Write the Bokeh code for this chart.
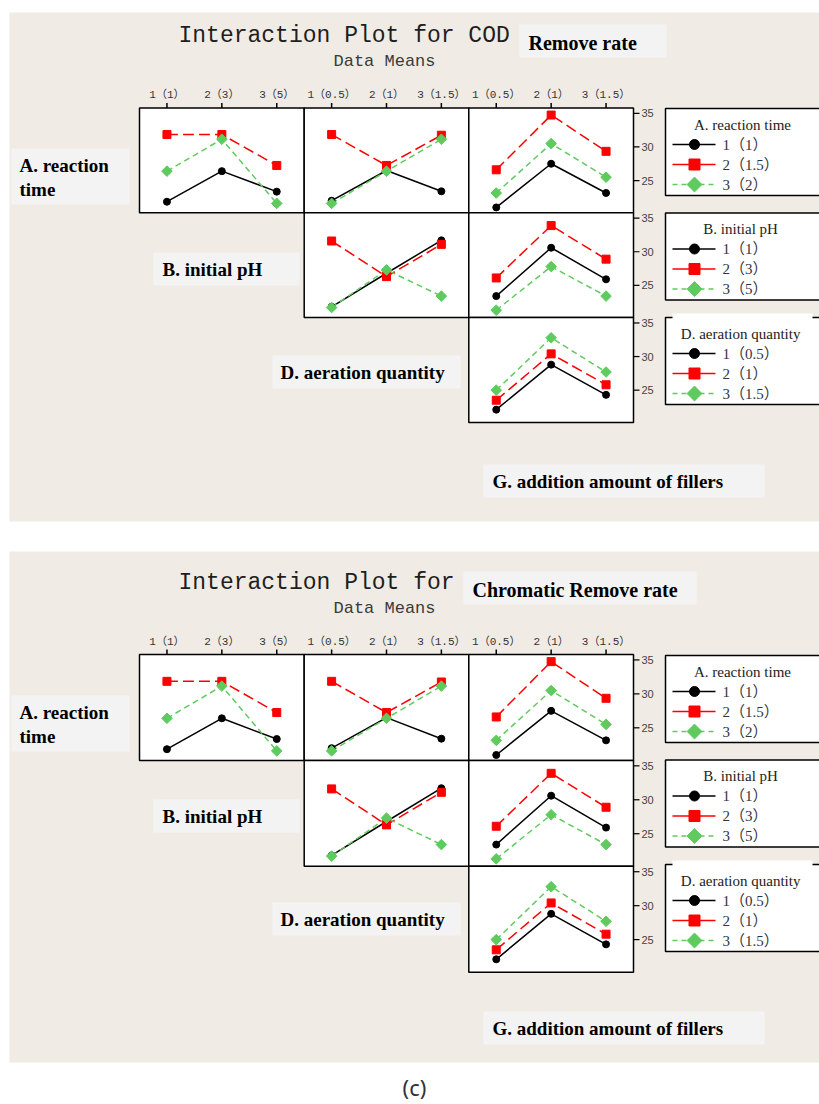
import math

from bokeh.plotting import figure
from bokeh.models import Range1d
from bokeh.core.properties import value
from bokeh.embed import file_html
from bokeh.resources import INLINE

# ---------------------------------------------------------------- data
# coded factor levels (actual settings in brackets)
LEVELS = [1, 2, 3]
A_LABELS = ["1（1）", "2（1.5）", "3（2）"]
B_LABELS = ["1（1）", "2（3）", "3（5）"]
D_LABELS = ["1（0.5）", "2（1）", "3（1.5）"]
G_LABELS = ["1（0.5）", "2（1）", "3（1.5）"]
Y_TICKS = [25, 30, 35]

# A. reaction time (lines) vs B. initial pH (x)
A1_vs_B = [21.85, 26.4, 23.35]
A2_vs_B = [31.85, 31.85, 27.25]
A3_vs_B = [26.4, 31.15, 21.6]
# A. reaction time (lines) vs D. aeration quantity (x)
A1_vs_D = [22.0, 26.5, 23.4]
A2_vs_D = [31.85, 27.25, 31.75]
A3_vs_D = [21.6, 26.4, 31.15]
# A. reaction time (lines) vs G. addition amount of fillers (x)
A1_vs_G = [21.0, 27.5, 23.15]
A2_vs_G = [26.6, 34.75, 29.35]
A3_vs_G = [23.15, 30.5, 25.5]
# B. initial pH (lines) vs D. aeration quantity (x)
B1_vs_D = [21.8, 26.8, 31.7]
B2_vs_D = [31.6, 26.3, 31.1]
B3_vs_D = [21.7, 27.3, 23.4]
# B. initial pH (lines) vs G. addition amount of fillers (x)
B1_vs_G = [23.4, 30.6, 25.9]
B2_vs_G = [26.1, 33.9, 28.9]
B3_vs_G = [21.3, 27.8, 23.4]
# D. aeration quantity (lines) vs G. addition amount of fillers (x)
D1_vs_G = [22.1, 28.8, 24.3]
D2_vs_G = [23.5, 30.4, 25.8]
D3_vs_G = [25.0, 32.8, 27.7]

PANELS = {
    (0, 0): [A1_vs_B, A2_vs_B, A3_vs_B],
    (0, 1): [A1_vs_D, A2_vs_D, A3_vs_D],
    (0, 2): [A1_vs_G, A2_vs_G, A3_vs_G],
    (1, 1): [B1_vs_D, B2_vs_D, B3_vs_D],
    (1, 2): [B1_vs_G, B2_vs_G, B3_vs_G],
    (2, 2): [D1_vs_G, D2_vs_G, D3_vs_G],
}
COLUMN_LABELS = [B_LABELS, D_LABELS, G_LABELS]
LEGENDS = [("A. reaction time", A_LABELS),
           ("B. initial  pH", B_LABELS),
           ("D. aeration  quantity", D_LABELS)]

# ---------------------------------------------------------------- styles
W, H = 819, 1104
BEIGE = "#F0EBE4"
LABEL_BG = "#F3F3F3"
GREEN = "#5FCB5F"
# diamonds are drawn as squares turned by 45 degrees
SERIES = [
    dict(color="black", dash="solid", marker="circle", size=7, angle=0.0, key_dash="solid"),
    dict(color="#FF0000", dash="11 5", marker="square", size=8, angle=0.0, key_dash="solid"),
    dict(color=GREEN, dash="6 4", marker="square", size=7.5, angle=math.pi / 4, key_dash="5 4"),
]
MONO = value("'Liberation Mono', 'Noto Sans CJK SC'")
SERIF = value("'Liberation Serif', 'Noto Sans CJK SC'")
SANS = value("Liberation Sans")
X_LO, X_HI = 0.5, 3.5
Y_LO, Y_HI = 20.2, 35.8

p = figure(width=W, height=H, x_range=Range1d(0, W), y_range=Range1d(0, H),
           output_backend="svg", toolbar_location=None, min_border=0,
           x_axis_type=None, y_axis_type=None)
p.outline_line_color = None
p.background_fill_color = "white"
p.border_fill_color = "white"


def Y(py):
    """page position measured from the top -> canvas coordinate"""
    return H - py


def box(x0, x1, y0, y1, fill, line=None, width=1.5):
    p.quad(left=[x0], right=[x1], top=[Y(y0)], bottom=[Y(y1)],
           fill_color=fill, line_color=line, line_width=width)


def label(x, y, txt, font=SERIF, size="19px", style="bold", color="black",
          align="left", baseline="middle"):
    p.text(x=[x], y=[Y(y)], text=[txt], text_font=font, text_font_size=size,
           text_font_style=style, text_color=color, text_align=align,
           text_baseline=baseline)


def draw_chart(bg_top, bg_bottom, oy, grid_top, row_h, title, subject, subject_box):
    # background panel
    box(9, W + 5, bg_top, bg_bottom, BEIGE)

    # heading
    label(178, oy + 35, title, font=MONO, size="23px", style="normal", color="#1e1e1e")
    sx0, sx1 = subject_box
    box(sx0, sx1, oy + 24, oy + 57, LABEL_BG)
    label(sx0 + 9, oy + 42, subject, size="20px")
    label(384, oy + 61, "Data Means", font=MONO, size="17px", style="normal",
          color="#3a3a3a", align="center")

    # matrix geometry
    col_x = [139, 303.7, 468.3, 633]
    row_y = [grid_top + i * row_h for i in range(4)]
    px_per_y = row_h / (Y_HI - Y_LO)

    for (r, c), series in PANELS.items():
        x0, x1 = col_x[c], col_x[c + 1]
        y0, y1 = row_y[r], row_y[r + 1]
        box(x0, x1, y0, y1, "white", "black", 1.5)
        sub = p.subplot(x_source=Range1d(X_LO, X_HI), y_source=Range1d(Y_LO, Y_HI),
                        x_target=Range1d(x0, x1), y_target=Range1d(Y(y1), Y(y0)))
        for vals, st in zip(series, SERIES):
            sub.line(x=LEVELS, y=vals, line_color=st["color"], line_width=1.5,
                     line_dash=st["dash"])
        for vals, st in zip(series, SERIES):
            sub.scatter(x=LEVELS, y=vals, marker=st["marker"], size=st["size"],
                        angle=st["angle"], fill_color=st["color"], line_color=st["color"])
        if r == 0:
            tick = 5 / px_per_y
            sub.segment(x0=LEVELS, y0=[Y_HI] * 3, x1=LEVELS, y1=[Y_HI + tick] * 3,
                        line_color="black", line_width=1.5)
            sub.text(x=LEVELS, y=[Y_HI] * 3, text=COLUMN_LABELS[c], y_offset=-7,
                     text_font=MONO, text_font_size="11px", text_color="#333333",
                     text_align="center", text_baseline="bottom")
        if c == 2:
            tick = 6 / ((x1 - x0) / (X_HI - X_LO))
            sub.segment(x0=[X_HI] * 3, y0=Y_TICKS, x1=[X_HI + tick] * 3, y1=Y_TICKS,
                        line_color="black", line_width=1.2)
            sub.text(x=[X_HI] * 3, y=Y_TICKS, text=[str(t) for t in Y_TICKS],
                     x_offset=8, text_font=SANS, text_font_size="11px",
                     text_color="#444444", text_align="left", text_baseline="middle")

    # factor names on the diagonal
    box(11, 129, oy + 148, oy + 204, LABEL_BG)
    label(19, oy + 165, "A. reaction")
    label(19, oy + 189, "time")
    box(153, 299, oy + 252, oy + 285, LABEL_BG)
    label(162, oy + 269, "B. initial pH")
    box(272, 460, oy + 355, oy + 388, LABEL_BG)
    label(280, oy + 372, "D. aeration quantity")
    box(483, 764, oy + 464, oy + 497, LABEL_BG)
    label(492, oy + 481, "G. addition amount of fillers")

    # legends, one per line factor
    for i, (name, items) in enumerate(LEGENDS):
        ty = oy + 108 + i * 104.5
        box(665, W + 20, ty, ty + 87, "white", "black", 1.5)
        if i == 2:
            box(672, 812, ty - 4, ty + 9, "white")
        label(742, ty + 16, name, size="15px", style="normal", color="#222222",
              align="center")
        for j, (txt, st) in enumerate(zip(items, SERIES)):
            ky = Y(ty + 36 + j * 20)
            p.line(x=[672, 715], y=[ky, ky], line_color=st["color"], line_width=1.5,
                   line_dash=st["key_dash"])
            p.scatter(x=[694], y=[ky], marker=st["marker"], size=st["size"] + 3,
                      angle=st["angle"], fill_color=st["color"], line_color=st["color"])
            p.text(x=[722], y=[ky], text=[txt], text_font=SERIF, text_font_size="15px",
                   text_color="#333340", text_align="left", text_baseline="middle")


draw_chart(12, 521, 0, 107.5, 104.8, "Interaction Plot for COD", "Remove rate", (519, 666))
draw_chart(551, 1062, 547, 654, 105.9, "Interaction Plot for", "Chromatic Remove rate",
           (463, 696))

label(414, 1086, "(c)", font=value("Noto Sans"), size="22px", style="normal",
      color="#333333", align="center")

open("out.html", "w").write(file_html(p, INLINE))
